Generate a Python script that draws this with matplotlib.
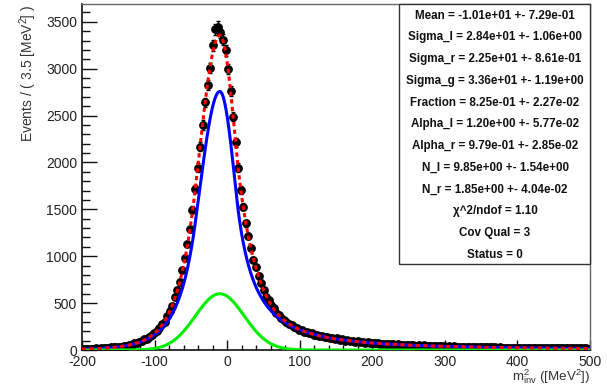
import matplotlib
matplotlib.use("Agg")
import matplotlib.pyplot as plt
import numpy as np
from matplotlib.patches import Rectangle
from matplotlib.ticker import MultipleLocator

plt.rcParams["font.family"] = ["Liberation Sans", "DejaVu Sans"]
plt.rcParams["mathtext.fontset"] = "custom"
plt.rcParams["mathtext.rm"] = "Liberation Sans"
plt.rcParams["axes.unicode_minus"] = False

# histogram range and binning (3.5 MeV^2 per bin)
x_lo, x_hi, bin_width = -200.0, 500.0, 3.5

# events per bin
counts = np.array([
    11, 9, 12, 13, 12, 16, 15, 19, 18, 23,
    22, 27, 30, 29, 36, 37, 45, 46, 55, 57,
    70, 78, 86, 97, 112, 118, 140, 158, 183, 199,
    238, 275, 302, 362, 418, 470, 560, 641, 722, 848,
    985, 1130, 1290, 1495, 1720, 1945, 2170, 2400, 2640, 2830,
    3010, 3250, 3420, 3450, 3390, 3310, 3195, 2995, 2765, 2490,
    2215, 1945, 1705, 1530, 1350, 1215, 1090, 965, 880, 790,
    715, 645, 570, 535, 478, 445, 398, 378, 340, 325,
    302, 276, 268, 243, 236, 218, 212, 196, 192, 178,
    178, 160, 162, 148, 152, 136, 140, 127, 133, 118,
    124, 110, 113, 101, 106, 95, 99, 90, 93, 84,
    87, 79, 82, 74, 77, 70, 73, 66, 69, 63,
    65, 60, 62, 57, 59, 54, 57, 52, 54, 49,
    51, 47, 50, 45, 48, 44, 46, 42, 44, 40,
    42, 38, 40, 37, 39, 35, 38, 34, 36, 33,
    34, 31, 33, 30, 32, 29, 31, 28, 30, 27,
    29, 27, 28, 26, 27, 25, 26, 24, 26, 23,
    25, 23, 24, 22, 23, 21, 23, 21, 22, 20,
    21, 20, 21, 19, 20, 18, 20, 18, 19, 17,
    19, 17, 18, 17, 18, 16, 17, 16, 17, 15,
])

# fit result: double-sided crystal ball + gaussian
mean = -10.1
sigma_l = 28.4
sigma_r = 22.5
sigma_g = 33.6
fraction = 0.825
alpha_l = 1.20
alpha_r = 0.979
n_l = 9.85
n_r = 1.85
n_events = 82500

stats_lines = [
    "Mean = -1.01e+01 +- 7.29e-01",
    "Sigma_l = 2.84e+01 +- 1.06e+00",
    "Sigma_r = 2.25e+01 +- 8.61e-01",
    "Sigma_g = 3.36e+01 +- 1.19e+00",
    "Fraction = 8.25e-01 +- 2.27e-02",
    "Alpha_l = 1.20e+00 +- 5.77e-02",
    "Alpha_r = 9.79e-01 +- 2.85e-02",
    "N_l = 9.85e+00 +- 1.54e+00",
    "N_r = 1.85e+00 +- 4.04e-02",
    "χ^2/ndof = 1.10",
    "Cov Qual = 3",
    "Status = 0",
]


def double_cb(x):
    out = np.zeros_like(x)
    left = x < mean
    tl = (x[left] - mean) / sigma_l
    tr = (x[~left] - mean) / sigma_r

    a_l = (n_l / alpha_l) ** n_l * np.exp(-0.5 * alpha_l ** 2)
    b_l = n_l / alpha_l - alpha_l
    a_r = (n_r / alpha_r) ** n_r * np.exp(-0.5 * alpha_r ** 2)
    b_r = n_r / alpha_r - alpha_r

    yl = np.exp(-0.5 * tl ** 2)
    m = tl < -alpha_l
    yl[m] = a_l * (b_l - tl[m]) ** (-n_l)
    yr = np.exp(-0.5 * tr ** 2)
    m = tr > alpha_r
    yr[m] = a_r * (b_r + tr[m]) ** (-n_r)

    out[left] = yl
    out[~left] = yr
    return out


def gauss(x):
    return np.exp(-0.5 * ((x - mean) / sigma_g) ** 2)


centers = x_lo + bin_width * (np.arange(len(counts)) + 0.5)
errors = np.sqrt(counts)

xs = np.linspace(x_lo, x_hi, 3000)
cb_shape = double_cb(xs)
g_shape = gauss(xs)
cb_curve = n_events * fraction * bin_width * cb_shape / np.trapezoid(cb_shape, xs)
g_curve = n_events * (1 - fraction) * bin_width * g_shape / np.trapezoid(g_shape, xs)
total_curve = cb_curve + g_curve

fig = plt.figure(figsize=(6.07, 3.86), dpi=100)
ax = fig.add_axes([82 / 607, 36 / 386, 508 / 607, 346 / 386])

ax.errorbar(centers, counts, yerr=errors, fmt="o", color="black", ms=5.3,
            elinewidth=1, capsize=1.5, capthick=1, zorder=2)
ax.plot(xs, cb_curve, color="#0000ff", lw=2.2, zorder=3)
ax.plot(xs, g_curve, color="#00ee00", lw=2.2, zorder=3)
ax.plot(xs, total_curve, color="#ff0000", lw=2.2, dashes=(1.4, 1.1), zorder=4)

ax.set_xlim(x_lo, x_hi)
ax.set_ylim(0, 3690)
ax.xaxis.set_major_locator(MultipleLocator(100))
ax.xaxis.set_minor_locator(MultipleLocator(20))
ax.yaxis.set_major_locator(MultipleLocator(500))
ax.yaxis.set_minor_locator(MultipleLocator(100))

ax.tick_params(axis="both", which="both", direction="in", width=1,
               labelsize=10, labelcolor="#222222", color="#111111")
ax.tick_params(axis="y", which="major", length=10.8, pad=3.5)
ax.tick_params(axis="y", which="minor", length=5.5)
ax.tick_params(axis="x", which="major", length=7.5, pad=3.5)
ax.tick_params(axis="x", which="minor", length=3.75)

for side in ["left", "bottom"]:
    ax.spines[side].set_color("#111111")
    ax.spines[side].set_linewidth(1.2)
for side in ["top", "right"]:
    ax.spines[side].set_color("#666666")
    ax.spines[side].set_linewidth(1.0)

ax.set_ylabel(r"Events / ( 3.5 [MeV$^{2}$] )", fontsize=10, color="#333333",
              ha="right", va="center", rotation_mode="anchor")
ax.yaxis.set_label_coords(-0.106, 0.997)
ax.set_xlabel(r"$\mathrm{m^{2}_{inv}}$ ([MeV$^{2}$])", fontsize=9.6, color="#333333",
              ha="right", va="center")
ax.xaxis.set_label_coords(1.0, -26.5 / 346)

# parameter box
box_left = (399 - 82) / 508
box_bottom = (350 - 264) / 346
ax.add_patch(Rectangle((box_left, box_bottom), 1 - box_left, 1 - box_bottom,
                       transform=ax.transAxes, facecolor="white",
                       edgecolor="#333333", lw=1.0, zorder=6, clip_on=False))
for i, line in enumerate(stats_lines):
    y_px = 15.7 + 21.75 * i
    ax.text((495 - 82) / 508, (350 - y_px) / 346, line, transform=ax.transAxes,
            ha="center", va="center", fontsize=8.4, fontweight="bold",
            color="#111111", zorder=7)

fig.savefig("out.png", dpi=100)
